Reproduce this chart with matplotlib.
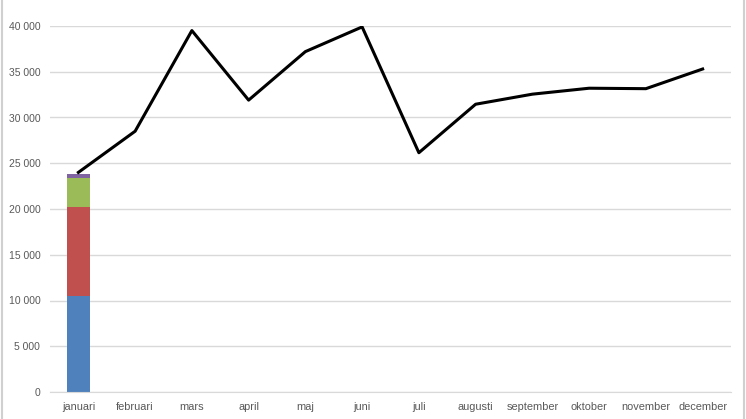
import numpy as np
import matplotlib.pyplot as plt
from matplotlib.lines import Line2D

months = ['januari', 'februari', 'mars', 'april', 'maj', 'juni', 'juli',
          'augusti', 'september', 'oktober', 'november', 'december']
total = [24000, 28500, 39500, 31900, 37200, 39900, 26150,
         31450, 32550, 33200, 33150, 35300]

# stacked parts, only januari has them
blue = [10500] + [0] * 11
red = [9700] + [0] * 11
green = [3200] + [0] * 11
purple = [380] + [0] * 11

fig = plt.figure(figsize=(7.46, 4.19), dpi=100)
ax = fig.add_axes([50 / 746, 27 / 419, 681 / 746, 366 / 419])

x = np.arange(len(months))
bottom = np.zeros(len(months))
for vals, col in [(blue, '#4F81BD'), (red, '#C0504D'), (green, '#9BBB59'), (purple, '#8064A2')]:
    ax.bar(x, vals, width=0.4, bottom=bottom, color=col, zorder=2)
    bottom += np.array(vals)

ax.plot(x, total, color='black', lw=2.2, zorder=3)

ax.set_xlim(-0.5, 11.5)
ax.set_ylim(0, 40000)
ax.set_yticks(range(0, 40001, 5000))
ax.set_yticklabels([f'{v:,}'.replace(',', ' ') for v in range(0, 40001, 5000)])
ax.set_xticks(x)
ax.set_xticklabels(months)
ax.grid(axis='y', color='#d9d9d9', lw=1, zorder=0)
for s in ['top', 'right', 'left']:
    ax.spines[s].set_visible(False)
ax.spines['bottom'].set_color('#d9d9d9')
ax.tick_params(length=0, labelsize=7.5, labelcolor='#595959', pad=7)
ax.tick_params(axis='x', labelsize=7.9)
for t in ax.get_xticklabels() + ax.get_yticklabels():
    t.set_fontfamily('Liberation Sans')

fig.add_artist(Line2D([1.5 / 746, 1.5 / 746], [0, 1], color='#d0d0d0', lw=1.5))
fig.add_artist(Line2D([743.5 / 746, 743.5 / 746], [0, 1], color='#d0d0d0', lw=1.5))

fig.savefig('out.png', dpi=100)
